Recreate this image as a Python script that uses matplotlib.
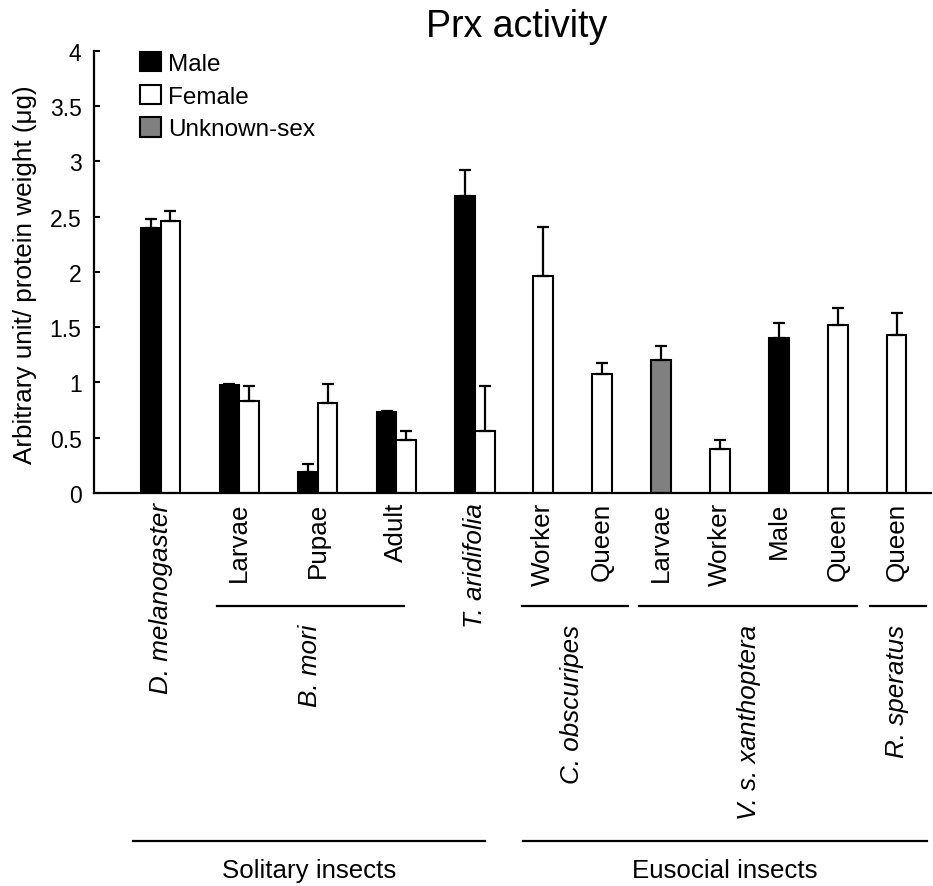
import numpy as np
import matplotlib
matplotlib.use('Agg')
import matplotlib.pyplot as plt
from matplotlib.patches import Patch

plt.rcParams['font.family'] = ['Liberation Sans', 'DejaVu Sans']

# solitary insects: male / female pairs
pair_labels = ['D. melanogaster', 'Larvae', 'Pupae', 'Adult', 'T. aridifolia']
pair_italic = [True, False, False, False, True]
male_vals = [2.40, 0.98, 0.19, 0.73, 2.69]
male_err = [0.08, 0.01, 0.075, 0.01, 0.235]
female_vals = [2.46, 0.83, 0.81, 0.48, 0.565]
female_err = [0.09, 0.135, 0.175, 0.08, 0.40]

# eusocial insects: one bar per caste
caste_labels = ['Worker', 'Queen', 'Larvae', 'Worker', 'Male', 'Queen', 'Queen']
caste_sex = ['Female', 'Female', 'Unknown', 'Female', 'Male', 'Female', 'Female']
caste_vals = [1.965, 1.076, 1.205, 0.398, 1.40, 1.52, 1.43]
caste_err = [0.44, 0.10, 0.12, 0.08, 0.14, 0.155, 0.20]

species = ['B. mori', 'C. obscuripes', 'V. s. xanthoptera', 'R. speratus']
groups = ['Solitary insects', 'Eusocial insects']
legend_names = ['Male', 'Female', 'Unknown-sex']

yticks = [0, 0.5, 1, 1.5, 2, 2.5, 3, 3.5, 4]
ytick_labels = ['0', '0.5', '1', '1.5', '2', '2.5', '3', '3.5', '4']

colors = {'Male': 'black', 'Female': 'white', 'Unknown': '#808080'}

# layout (x in bar-width units)
pair_x = 3.39 + 4 * np.arange(len(pair_labels))
caste_x = 22.85 + 3 * np.arange(len(caste_labels))
species_x = [(pair_x[1] + pair_x[3]) / 2 - 0.4,
             (caste_x[0] + caste_x[1]) / 2,
             (caste_x[2] + caste_x[5]) / 2,
             caste_x[6]]
species_spans = [(6.26, 15.78), (21.78, 27.18), (27.74, 38.83), (39.49, 42.34)]
group_spans = [(1.98, 19.9), (21.83, 42.39)]

fig = plt.figure(figsize=(9.33, 8.87), dpi=100)
ax = fig.add_axes([0.1008, 0.4431, 0.8971, 0.4986])

bar_kw = dict(width=1.0, edgecolor='black', linewidth=1.5, zorder=2)
err_kw = dict(fmt='none', ecolor='black', elinewidth=1.6, capsize=4.5, capthick=1.6, zorder=3)

ax.bar(pair_x - 0.5, male_vals, color=colors['Male'], **bar_kw)
ax.bar(pair_x + 0.5, female_vals, color=colors['Female'], **bar_kw)
ax.errorbar(pair_x - 0.5, male_vals, yerr=[np.zeros(len(male_err)), male_err], **err_kw)
ax.errorbar(pair_x + 0.5, female_vals, yerr=[np.zeros(len(female_err)), female_err], **err_kw)

ax.bar(caste_x, caste_vals, color=[colors[s] for s in caste_sex], **bar_kw)
ax.errorbar(caste_x, caste_vals, yerr=[np.zeros(len(caste_err)), caste_err], **err_kw)

ax.set_xlim(0, 42.6)
ax.set_ylim(0, 4)
ax.set_yticks(yticks)
ax.set_yticklabels(ytick_labels, fontsize=16.5)
ax.set_xticks([])
ax.tick_params(axis='y', direction='in', length=4, width=1.5, pad=9)
for s in ['top', 'right']:
    ax.spines[s].set_visible(False)
for s in ['left', 'bottom']:
    ax.spines[s].set_linewidth(1.6)

tr = ax.get_xaxis_transform()
lab_fs = 18.7

for x, lab, it in zip(pair_x, pair_labels, pair_italic):
    ax.text(x, -0.02, lab, rotation=90, ha='center', va='top', fontsize=lab_fs,
            style='italic' if it else 'normal', transform=tr)
for x, lab in zip(caste_x, caste_labels):
    ax.text(x, -0.02, lab, rotation=90, ha='center', va='top', fontsize=lab_fs, transform=tr)

for x, lab, (a, b) in zip(species_x, species, species_spans):
    ax.plot([a, b], [-0.2555, -0.2555], color='black', lw=1.6, transform=tr, clip_on=False)
    ax.text(x, -0.296, lab, rotation=90, ha='center', va='top', fontsize=lab_fs,
            style='italic', transform=tr)

for lab, (a, b) in zip(groups, group_spans):
    ax.plot([a, b], [-0.787, -0.787], color='black', lw=1.6, transform=tr, clip_on=False)
    ax.text((a + b) / 2, -0.869, lab, ha='center', va='baseline', fontsize=18.6, transform=tr)

fig.text(25 / 933, 1 - 275 / 887, 'Arbitrary unit/ protein weight (\u03bcg)', rotation=90,
         ha='center', va='center', fontsize=18.8)
fig.text(517 / 933, 1 - 36.7 / 887, 'Prx activity', ha='center', va='baseline', fontsize=27)

handles = [Patch(facecolor=colors[k], edgecolor='black', linewidth=1.5)
           for k in ['Male', 'Female', 'Unknown']]
fig.legend(handles, legend_names, loc='upper left', bbox_to_anchor=(140 / 933, 1 - 53 / 887),
           frameon=False, fontsize=17.5, handlelength=0.85, handleheight=0.85,
           handletextpad=0.3, labelspacing=0.39, borderpad=0, borderaxespad=0)

fig.savefig('out.png', dpi=100)
